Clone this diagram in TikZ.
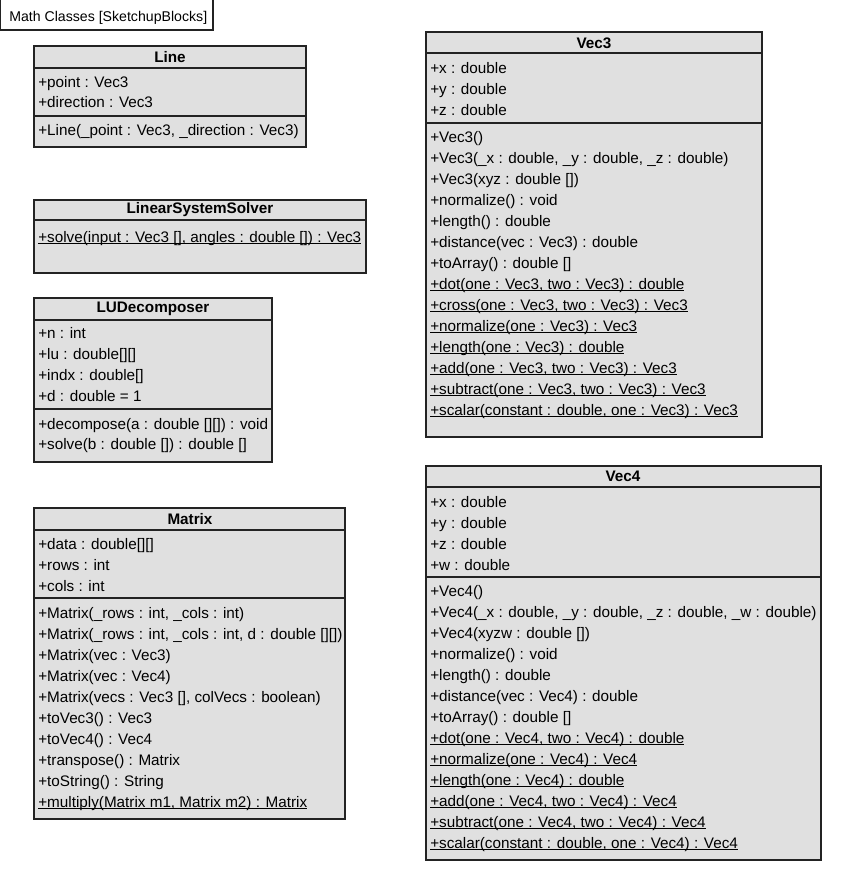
\documentclass[tikz,border=0pt]{standalone}
\usepackage{fontspec}
\setmainfont{Liberation Sans}
\usepackage{tikz}
\usepackage{xcolor}
\usetikzlibrary{positioning}

\definecolor{umlfill}{RGB}{224,224,224}
\definecolor{umlline}{RGB}{35,35,35}
% static members: underline close to the baseline
\newcommand{\classop}[1]{\setbox0\hbox{#1}\rlap{\rule[-1.6pt]{\wd0}{0.6pt}}\box0}
\tikzset{
    compartment/.style={draw=umlline, fill=umlfill, line width=0.8pt},
    classname/.style={font=\fontsize{11.45}{14}\selectfont\bfseries, inner sep=0pt},
    member/.style={font=\fontsize{11.45}{14}\selectfont, anchor=base west, inner sep=0pt},
    framelabel/.style={font=\fontsize{10.6}{13}\selectfont, anchor=base west, inner sep=0pt}
}

\begin{document}
\begin{tikzpicture}[x=0.75pt, y=-0.75pt]
    \useasboundingbox (0,0) rectangle (841,872);

    % frame label
    \draw[umlline, fill=white, line width=0.8pt] (0.5,-2) rectangle (213,30);
    \node[framelabel] (frame) at (9,21) {Math Classes [SketchupBlocks]};

    % Line
    \draw[compartment] (34,46) rectangle (306,68);
    \draw[compartment] (34,68) rectangle (306,116);
    \draw[compartment] (34,116) rectangle (306,147);
    \node[classname] (line) at (170,57) {Line};
    \foreach \m [count=\i from 0] in {+point : Vec3, +direction : Vec3}
        \node[member] (line attr \i) at (38,{87+20.5*\i}) {\m};
    \node[member] (line op 0) at (38,135) {+Line(\_point : Vec3, \_direction : Vec3)};

    % LinearSystemSolver
    \draw[compartment] (34,200) rectangle (366,220);
    \draw[compartment] (34,220) rectangle (366,273);
    \node[classname] (solver) at (200,210) {LinearSystemSolver};
    \node[member] (solver op 0) at (38,242) {\classop{+solve(input : Vec3 [], angles : double []) : Vec3}};

    % LUDecomposer
    \draw[compartment] (34,298) rectangle (272,320);
    \draw[compartment] (34,320) rectangle (272,409);
    \draw[compartment] (34,409) rectangle (272,462);
    \node[classname] (lu) at (153,309) {LUDecomposer};
    \foreach \m [count=\i from 0] in {+n : int, +lu : double[][], +indx : double[], +d : double = 1}
        \node[member] (lu attr \i) at (38,{338+21*\i}) {\m};
    \foreach \m [count=\i from 0] in {+decompose(a : double [][]) : void, +solve(b : double []) : double []}
        \node[member] (lu op \i) at (38,{429+20.5*\i}) {\m};

    % Matrix
    \draw[compartment] (34,508) rectangle (345,530);
    \draw[compartment] (34,530) rectangle (345,598);
    \draw[compartment] (34,598) rectangle (345,819);
    \node[classname] (matrix) at (190,519) {Matrix};
    \foreach \m [count=\i from 0] in {+data : double[][], +rows : int, +cols : int}
        \node[member] (matrix attr \i) at (38,{549+21*\i}) {\m};
    \foreach \m [count=\i from 0] in {
        {+Matrix(\_rows : int, \_cols : int)},
        {+Matrix(\_rows : int, \_cols : int, d : double [][])},
        +Matrix(vec : Vec3),
        +Matrix(vec : Vec4),
        {+Matrix(vecs : Vec3 [], colVecs : boolean)},
        +toVec3() : Vec3,
        +toVec4() : Vec4,
        +transpose() : Matrix,
        +toString() : String,
        {\classop{+multiply(Matrix m1, Matrix m2) : Matrix}}}
        \node[member] (matrix op \i) at (38,{618+21*\i}) {\m};

    % Vec3
    \draw[compartment] (426,32) rectangle (762,53);
    \draw[compartment] (426,53) rectangle (762,123);
    \draw[compartment] (426,123) rectangle (762,437);
    \node[classname] (vec3) at (594,43) {Vec3};
    \foreach \m [count=\i from 0] in {+x : double, +y : double, +z : double}
        \node[member] (vec3 attr \i) at (430,{73+21*\i}) {\m};
    \foreach \m [count=\i from 0] in {
        +Vec3(),
        {+Vec3(\_x : double, \_y : double, \_z : double)},
        +Vec3(xyz : double []),
        +normalize() : void,
        +length() : double,
        +distance(vec : Vec3) : double,
        +toArray() : double [],
        {\classop{+dot(one : Vec3, two : Vec3) : double}},
        {\classop{+cross(one : Vec3, two : Vec3) : Vec3}},
        {\classop{+normalize(one : Vec3) : Vec3}},
        {\classop{+length(one : Vec3) : double}},
        {\classop{+add(one : Vec3, two : Vec3) : Vec3}},
        {\classop{+subtract(one : Vec3, two : Vec3) : Vec3}},
        {\classop{+scalar(constant : double, one : Vec3) : Vec3}}}
        \node[member] (vec3 op \i) at (430,{142+21*\i}) {\m};

    % Vec4
    \draw[compartment] (426,466) rectangle (821,487);
    \draw[compartment] (426,487) rectangle (821,577);
    \draw[compartment] (426,577) rectangle (821,860);
    \node[classname] (vec4) at (623,476) {Vec4};
    \foreach \m [count=\i from 0] in {+x : double, +y : double, +z : double, +w : double}
        \node[member] (vec4 attr \i) at (430,{507+21*\i}) {\m};
    \foreach \m [count=\i from 0] in {
        +Vec4(),
        {+Vec4(\_x : double, \_y : double, \_z : double, \_w : double)},
        +Vec4(xyzw : double []),
        +normalize() : void,
        +length() : double,
        +distance(vec : Vec4) : double,
        +toArray() : double [],
        {\classop{+dot(one : Vec4, two : Vec4) : double}},
        {\classop{+normalize(one : Vec4) : Vec4}},
        {\classop{+length(one : Vec4) : double}},
        {\classop{+add(one : Vec4, two : Vec4) : Vec4}},
        {\classop{+subtract(one : Vec4, two : Vec4) : Vec4}},
        {\classop{+scalar(constant : double, one : Vec4) : Vec4}}}
        \node[member] (vec4 op \i) at (430,{596+21*\i}) {\m};
\end{tikzpicture}
\end{document}
